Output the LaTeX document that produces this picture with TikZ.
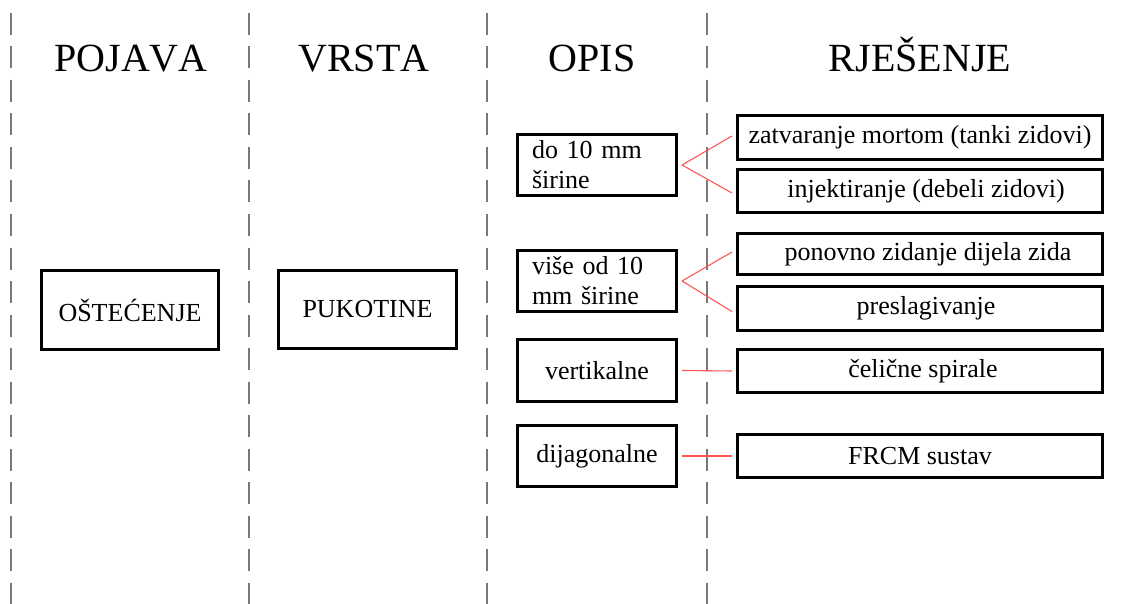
\documentclass[tikz,border=0pt]{standalone}
\usepackage{fontspec}
\setmainfont[Kerning=Off]{Liberation Serif}
\definecolor{conred}{RGB}{255,85,85}
\definecolor{dashgray}{RGB}{120,120,120}
\begin{document}
\begin{tikzpicture}[x=1pt,y=-1pt,
  box/.style={draw=black,line width=3pt,rectangle,inner sep=0pt,align=center,
    font=\fontsize{26}{30}\selectfont},
  leftbox/.style={box,minimum width=159pt,minimum height=61pt},
  rightbox/.style={box,minimum width=365pt},
  twoline/.style={leftbox,text width=130pt,align=left,inner xsep=14.5pt},
  title/.style={font=\fontsize{40}{48}\selectfont,anchor=base,inner sep=0pt},
  divider/.style={draw=dashgray,line width=1.3pt,dash pattern=on 22pt off 11.5pt},
  conn/.style={draw=conred,line width=1.1pt}]
\useasboundingbox (0,0) rectangle (1121,604);
% dividers
\coordinate (d1t) at (11,13);  \coordinate (d1b) at (11,604);
\coordinate (d2t) at (249,13); \coordinate (d2b) at (249,604);
\coordinate (d3t) at (487,13); \coordinate (d3b) at (487,604);
\coordinate (d4t) at (707,13); \coordinate (d4b) at (707,604);
\draw[divider] (d1t) -- (d1b);
\draw[divider] (d2t) -- (d2b);
\draw[divider] (d3t) -- (d3b);
\draw[divider] (d4t) -- (d4b);
% titles
\node[title] (t1) at (131,72) {POJAVA};
\node[title] (t2) at (364,72) {VRSTA};
\node[title] (t3) at (592,72) {OPIS};
\node[title] (t4) at (920,72) {RJEŠENJE};
% column 1 and 2
\node[box,minimum width=177pt,minimum height=79pt] (ost) at (130,310) {OŠTEĆENJE};
\node[box,minimum width=178pt,minimum height=78pt] (puk) at (367.5,309.5) {PUKOTINE};
% column 3
\node[twoline] (do10) at (597,165) {do 10 mm\\širine};
\node[twoline] (vise) at (597,281) {više od 10\\mm širine};
\node[leftbox,minimum height=62pt] (vert) at (597,370.5) {vertikalne};
\node[leftbox] (dij) at (597,456) {dijagonalne};
% column 4
\node[rightbox,minimum height=44pt] (zat) at (920,137.5) {zatvaranje mortom (tanki zidovi)};
\node[rightbox,minimum height=43pt] (inj) at (920,191) {\hspace*{12pt}injektiranje (debeli zidovi)};
\node[rightbox,minimum height=41pt] (pon) at (920,254) {\hspace*{16pt}ponovno zidanje dijela zida};
\node[rightbox,minimum height=44pt] (pre) at (920,308.5) {\hspace*{12pt}preslagivanje};
\node[rightbox,minimum height=43pt] (cel) at (920,371) {\hspace*{6pt}čelične spirale};
\node[rightbox,minimum height=43pt] (frcm) at (920,456) {FRCM sustav};
% connectors
\draw[conn] ([xshift=4pt]do10.east) -- ([xshift=-4pt,yshift=1.5pt]zat.west);
\draw[conn] ([xshift=4pt]do10.east) -- ([xshift=-4pt,yshift=-2pt]inj.west);
\draw[conn] ([xshift=4pt]vise.east) -- ([xshift=-4pt,yshift=2pt]pon.west);
\draw[conn] ([xshift=4pt]vise.east) -- ([xshift=-4pt,yshift=-3pt]pre.west);
\draw[conn] ([xshift=4pt]vert.east) -- ([xshift=-4pt]cel.west);
\draw[conn] ([xshift=4pt]dij.east) -- ([xshift=-4pt]frcm.west);
\end{tikzpicture}
\end{document}
